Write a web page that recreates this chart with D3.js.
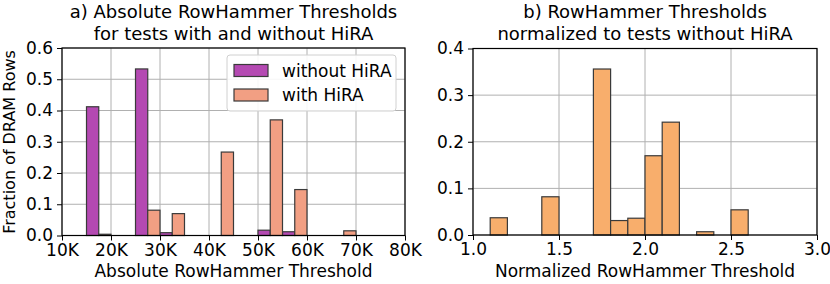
<!DOCTYPE html>
<html><head><meta charset="utf-8">
<script src="https://cdn.jsdelivr.net/npm/d3@7"></script>
<style>
body{margin:0;background:#fff;}
svg{display:block;font-family:"DejaVu Sans",sans-serif;}
</style></head>
<body><svg id="c" width="830" height="284"></svg>
<script>
// ---- data ----
const absBinStarts = [10000,15000,20000,25000,30000,35000,40000,45000,50000,55000,60000,65000,70000,75000];
const absBinWidth = 5000;
const withoutHiRA = [0,0.412,0,0.533,0.009,0,0,0,0.017,0.012,0,0,0,0];
const withHiRA    = [0,0.004,0,0.081,0.070,0,0.267,0,0.370,0.147,0,0.015,0,0];
const normBinStarts = [1.1,1.2,1.3,1.4,1.5,1.6,1.7,1.8,1.9,2.0,2.1,2.2,2.3,2.4,2.5];
const normBinWidth = 0.1;
const normValues = [0.037,0,0,0.082,0,0,0.356,0.031,0.036,0.170,0.242,0,0.007,0,0.054];
const absXTicks = [10000,20000,30000,40000,50000,60000,70000,80000];
const absXTickLabels = ["10K","20K","30K","40K","50K","60K","70K","80K"];
const absYTicks = [0,0.1,0.2,0.3,0.4,0.5,0.6];
const normXTicks = [1.0,1.5,2.0,2.5,3.0];
const normYTicks = [0,0.1,0.2,0.3,0.4];
const seriesNames = ["without HiRA","with HiRA"];
const titleA = ["a) Absolute RowHammer Thresholds","for tests with and without HiRA"];
const titleB = ["b) RowHammer Thresholds","normalized to tests without HiRA"];

const colPurple = "#b449b2", colSalmon = "#f29f83", colOrange = "#f8ae6c", edge = "#3a3a3a";
const svg = d3.select("#c");
const FS = 17;

function panel(xs, ys, xTicks, xFmt, yTicks, yFmt){
  const g = svg.append("g");
  const [x0,x1] = xs.range(), [y0,y1] = ys.range();
  // grid
  g.append("g").selectAll("line").data(xTicks).join("line")
    .attr("x1",d=>xs(d)).attr("x2",d=>xs(d)).attr("y1",y0).attr("y2",y1)
    .attr("stroke","#b0b0b0").attr("stroke-width",1);
  g.append("g").selectAll("line").data(yTicks).join("line")
    .attr("y1",d=>ys(d)).attr("y2",d=>ys(d)).attr("x1",x0).attr("x2",x1)
    .attr("stroke","#b0b0b0").attr("stroke-width",1);
  const bars = g.append("g");
  const ax = g.append("g");
  // axes
  const xa = ax.append("g").attr("transform",`translate(0,${y0})`)
    .call(d3.axisBottom(xs).tickValues(xTicks).tickFormat(xFmt).tickSize(5).tickPadding(3).tickSizeOuter(0));
  const ya = ax.append("g").attr("transform",`translate(${x0},0)`)
    .call(d3.axisLeft(ys).tickValues(yTicks).tickFormat(yFmt).tickSize(5).tickPadding(4).tickSizeOuter(0));
  [xa,ya].forEach(a=>{
    a.select(".domain").remove();
    a.selectAll("text").attr("font-size",FS).attr("fill","#000").attr("font-family","DejaVu Sans");
    a.selectAll("line").attr("stroke","#000").attr("stroke-width",1);
  });
  ax.append("rect").attr("x",x0).attr("y",y1).attr("width",x1-x0).attr("height",y0-y1)
    .attr("fill","none").attr("stroke","#000").attr("stroke-width",1.2);
  return {g,bars};
}

// ---- panel a ----
const xA = d3.scaleLinear().domain([10000,80000]).range([62,405]);
const yA = d3.scaleLinear().domain([0,0.6]).range([235.5,48]);
const pA = panel(xA,yA,absXTicks,(d,i)=>absXTickLabels[i],absYTicks,d3.format(".1f"));
const halfW = absBinWidth/2;
const seriesA = [{vals:withoutHiRA,col:colPurple,off:0},{vals:withHiRA,col:colSalmon,off:halfW}];
seriesA.forEach(s=>{
  pA.bars.append("g").selectAll("rect")
    .data(absBinStarts.map((b,i)=>({b,v:s.vals[i]})).filter(d=>d.v>0)).join("rect")
    .attr("x",d=>xA(d.b+s.off)).attr("width",d=>xA(d.b+s.off+halfW)-xA(d.b+s.off))
    .attr("y",d=>yA(d.v)).attr("height",d=>yA(0)-yA(d.v))
    .attr("fill",s.col).attr("stroke",edge).attr("stroke-width",1.2);
});
// legend
const lg = pA.g.append("g");
lg.append("rect").attr("x",227).attr("y",55).attr("width",169).attr("height",56).attr("rx",3)
  .attr("fill","#fff").attr("fill-opacity",0.9).attr("stroke","#d0d0d0").attr("stroke-width",1);
[colPurple,colSalmon].forEach((c,i)=>{
  const cy = 70.5 + i*24.5;
  lg.append("rect").attr("x",234).attr("y",cy-6).attr("width",34).attr("height",12)
    .attr("fill",c).attr("stroke",edge).attr("stroke-width",1.2);
  lg.append("text").attr("x",282).attr("y",cy).attr("dy","0.36em").attr("font-size",FS)
    .text(seriesNames[i]);
});

// ---- panel b ----
const xB = d3.scaleLinear().domain([1,3]).range([473,817]);
const yB = d3.scaleLinear().domain([0,0.4]).range([235,48.5]);
const pB = panel(xB,yB,normXTicks,d3.format(".1f"),normYTicks,d3.format(".1f"));
pB.bars.selectAll("rect")
  .data(normBinStarts.map((b,i)=>({b,v:normValues[i]})).filter(d=>d.v>0)).join("rect")
  .attr("x",d=>xB(d.b)).attr("width",d=>xB(d.b+normBinWidth)-xB(d.b))
  .attr("y",d=>yB(d.v)).attr("height",d=>yB(0)-yB(d.v))
  .attr("fill",colOrange).attr("stroke",edge).attr("stroke-width",1.2);

// ---- titles and labels ----
function title(lines,cx){
  lines.forEach((t,i)=>svg.append("text").attr("x",cx).attr("y",18+i*22).attr("text-anchor","middle")
    .attr("font-size",18).text(t));
}
title(titleA,233.5);
title(titleB,645);
svg.append("text").attr("x",233.5).attr("y",277).attr("text-anchor","middle").attr("font-size",FS)
  .text("Absolute RowHammer Threshold");
svg.append("text").attr("x",645).attr("y",277).attr("text-anchor","middle").attr("font-size",FS)
  .text("Normalized RowHammer Threshold");
svg.append("text").attr("transform","translate(15,142) rotate(-90)").attr("text-anchor","middle")
  .attr("font-size",16).text("Fraction of DRAM Rows");
</script></body></html>
